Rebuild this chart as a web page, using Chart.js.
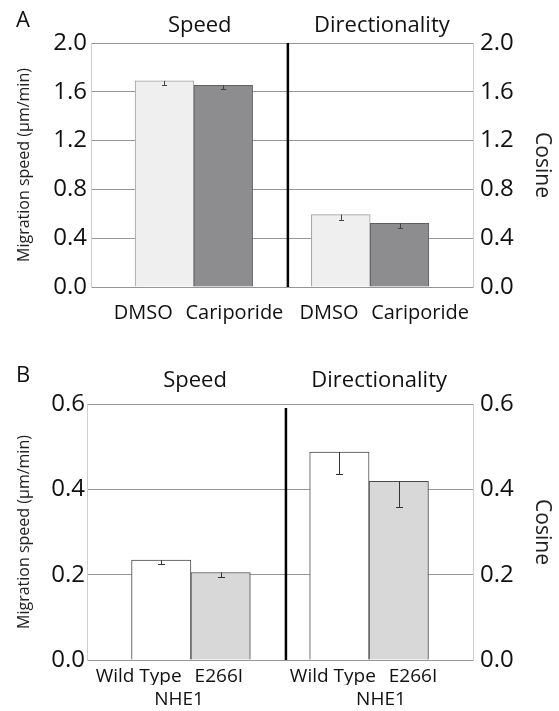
<!DOCTYPE html>
<html>
<head>
<meta charset="utf-8">
<script src="https://cdn.jsdelivr.net/npm/chart.js@4.4.1/dist/chart.umd.min.js"></script>
<style>
  html, body { margin: 0; padding: 0; background: #fff; }
  body { width: 559px; height: 711px; position: relative; overflow: hidden; font-family: "Open Sans", sans-serif; }
  .panel { position: absolute; left: 0; width: 559px; }
  #wrapA { top: 0; height: 340px; }
  #wrapB { top: 340px; height: 371px; }
  .letter { position: absolute; font-size: 22px; line-height: 1.362; color: #111; }
</style>
</head>
<body>
<div class="panel" id="wrapA"><canvas id="chartA" width="559" height="340"></canvas></div>
<div class="panel" id="wrapB"><canvas id="chartB" width="559" height="371"></canvas></div>
<div class="letter" style="left:16px;top:4px">A</div>
<div class="letter" style="left:16px;top:359px">B</div>

<script>
// ---- Panel A: DMSO vs Cariporide ----
const groupsA = ['Speed', 'Directionality'];
const treatmentsA = ['DMSO', 'Cariporide'];
const speedA = [1.69, 1.653];
const speedErrA = [0.035, 0.033];
const directionA = [0.593, 0.522];
const directionErrA = [0.044, 0.038];
const yTicksA = [0.0, 0.4, 0.8, 1.2, 1.6, 2.0];

// ---- Panel B: NHE1 wild type vs E266I ----
const groupsB = ['Speed', 'Directionality'];
const treatmentsB = ['Wild Type', 'E266I'];
const genotypeB = 'NHE1';
const speedB = [0.234, 0.205];
const speedErrB = [0.009, 0.01];
const directionB = [0.4875, 0.419];
const directionErrB = [0.051, 0.06];
const yTicksB = [0.0, 0.2, 0.4, 0.6];

const leftTitle = 'Migration speed (\u03bcm/min)';
const rightTitle = 'Cosine';

Chart.defaults.font.family = '"Open Sans", sans-serif';
Chart.defaults.color = '#1a1a1a';

// Each bar gets a downward error whisker with a cap at its lower end
const errorBars = {
  id: 'errorBars',
  afterDatasetsDraw(chart, args, opts) {
    const ctx = chart.ctx;
    const y = chart.scales.y;
    chart.data.datasets.forEach((ds, di) => {
      const meta = chart.getDatasetMeta(di);
      meta.data.forEach((bar, i) => {
        const d = ds.data[i];
        const top = y.getPixelForValue(d.y);
        const low = y.getPixelForValue(d.y - d.err);
        const cx = Math.round(bar.x) + 0.5;
        const ly = Math.round(low) + 0.5;
        ctx.save();
        ctx.strokeStyle = opts.color;
        ctx.lineWidth = 1;
        ctx.beginPath();
        ctx.moveTo(cx, top);
        ctx.lineTo(cx, ly);
        ctx.moveTo(cx - opts.cap / 2, ly);
        ctx.lineTo(cx + opts.cap / 2, ly);
        ctx.stroke();
        ctx.restore();
      });
    });
  }
};

// Heavy vertical rule separating the speed and directionality groups
const divider = {
  id: 'divider',
  afterDatasetsDraw(chart, args, opts) {
    const ctx = chart.ctx;
    const area = chart.chartArea;
    const px = chart.scales.x.getPixelForValue(opts.at);
    ctx.save();
    ctx.strokeStyle = '#000';
    ctx.lineWidth = opts.width;
    ctx.beginPath();
    ctx.moveTo(px, area.top + opts.inset);
    ctx.lineTo(px, area.bottom);
    ctx.stroke();
    ctx.restore();
  }
};

function buildPanel(canvasId, p) {
  const bars = [];
  const fills = [];
  const borders = [];
  p.groups.forEach((g, gi) => {
    p.treatments.forEach((t, ti) => {
      bars.push({ x: gi * 3 + ti + 1, y: p.values[gi][ti], err: p.errors[gi][ti] });
      fills.push(p.fills[ti]);
      borders.push(p.borders[ti]);
    });
  });

  // Treatment names sit under their bars, each group's pair spread slightly outward
  const labelTicks = [];
  const labelText = [];
  p.groups.forEach((g, gi) => {
    p.treatments.forEach((t, ti) => {
      labelTicks.push(gi * 3 + ti + 1 + p.labelShift[ti] + p.groupShift[gi]);
      labelText.push(t);
    });
  });
  const titleTicks = p.groups.map((g, gi) => gi * 3 + 1.5 + p.titleShift[gi]);

  const yMax = p.yTicks[p.yTicks.length - 1];
  const yAxis = (pos) => ({
    type: 'linear',
    position: pos,
    min: 0,
    max: yMax,
    afterBuildTicks: s => { s.ticks = p.yTicks.map(v => ({ value: v })); },
    afterFit: s => { s.width = pos === 'left' ? p.leftWidth : p.rightWidth; },
    ticks: {
      font: { size: 24 },
      color: '#111',
      padding: pos === 'left' ? p.leftPad : 7,
      callback: v => v.toFixed(1)
    },
    grid: pos === 'left'
      ? { color: '#969696', lineWidth: 1, drawTicks: false }
      : { display: false, drawTicks: false },
    border: { display: true, color: '#cfcfcf', width: 1 },
    title: pos === 'left'
      ? { display: true, text: leftTitle, font: { size: 16 }, color: '#222', padding: { top: 15 } }
      : { display: true, text: rightTitle, font: { size: 21 }, color: '#222', padding: { top: 4 } }
  });

  const horizontal = (extra) => Object.assign({
    type: 'linear',
    min: -0.25,
    max: 6.25,
    offset: false,
    grid: { display: false, drawTicks: false, offset: false },
    border: { display: false }
  }, extra);

  const scales = {
    x: horizontal({
      position: 'bottom',
      weight: 0,
      afterBuildTicks: s => { s.ticks = labelTicks.map(v => ({ value: v })); },
      afterFit: s => { s.height = p.bottomHeight; },
      ticks: {
        autoSkip: false, maxRotation: 0, font: { size: p.labelSize }, color: '#111',
        padding: p.labelPad,
        callback: (v, i) => labelText[i]
      }
    }),
    xt: horizontal({
      position: 'top',
      afterBuildTicks: s => { s.ticks = titleTicks.map(v => ({ value: v })); },
      afterFit: s => { s.height = p.topHeight; },
      ticks: {
        autoSkip: false, maxRotation: 0, font: { size: 22 }, color: '#111',
        padding: p.titlePad,
        callback: (v, i) => p.groups[i]
      }
    }),
    y: yAxis('left'),
    y2: yAxis('right')
  };

  if (p.note) {
    const noteTicks = p.groups.map((g, gi) => gi * 3 + 1.5 + p.noteShift[gi]);
    scales.xn = horizontal({
      position: 'bottom',
      weight: 1,
      afterBuildTicks: s => { s.ticks = noteTicks.map(v => ({ value: v })); },
      afterFit: s => { s.height = p.noteHeight; },
      ticks: {
        autoSkip: false, maxRotation: 0, font: { size: p.labelSize }, color: '#111',
        padding: p.notePad,
        callback: () => p.note
      }
    });
  }

  return new Chart(document.getElementById(canvasId), {
    type: 'bar',
    data: {
      datasets: [{
        data: bars,
        backgroundColor: fills,
        borderColor: borders,
        borderWidth: 1,
        barPercentage: 1,
        categoryPercentage: 1,
        xAxisID: 'x',
        yAxisID: 'y'
      }]
    },
    options: {
      responsive: false,
      maintainAspectRatio: false,
      devicePixelRatio: 1,
      animation: false,
      layout: { padding: 0 },
      scales,
      plugins: {
        legend: { display: false },
        tooltip: { enabled: false },
        errorBars: { color: p.errColor, cap: p.cap },
        divider: { at: 3.1, width: 2.5, inset: p.dividerInset }
      }
    },
    plugins: [errorBars, divider]
  });
}

buildPanel('chartA', {
  groups: groupsA,
  treatments: treatmentsA,
  values: [speedA, directionA],
  errors: [speedErrA, directionErrA],
  yTicks: yTicksA,
  fills: ['#efefef', '#8d8d8f'],
  borders: ['#a0a0a0', '#606062'],
  errColor: '#444',
  cap: 5,
  labelShift: [-0.28, 0.27],
  groupShift: [-0.08, 0.08],
  titleShift: [0.1, 0.2],
  labelSize: 20,
  labelPad: 14,
  titlePad: 4,
  leftWidth: 91,
  rightWidth: 86,
  leftPad: 4,
  topHeight: 43,
  bottomHeight: 53,
  dividerInset: 0
});

buildPanel('chartB', {
  groups: groupsB,
  treatments: treatmentsB,
  values: [speedB, directionB],
  errors: [speedErrB, directionErrB],
  yTicks: yTicksB,
  fills: ['#ffffff', '#d8d8d8'],
  borders: ['#4a4a4a', '#4a4a4a'],
  errColor: '#333',
  cap: 7,
  labelShift: [-0.25, 0.1],
  groupShift: [-0.13, 0.14],
  titleShift: [0.07, 0.17],
  labelSize: 19,
  labelPad: 5,
  titlePad: 10,
  leftWidth: 87,
  rightWidth: 86,
  leftPad: 2,
  topHeight: 64,
  bottomHeight: 25,
  note: genotypeB,
  noteShift: [-0.2, 0.2],
  noteHeight: 26,
  notePad: 3,
  dividerInset: 4
});
</script>
</body>
</html>
